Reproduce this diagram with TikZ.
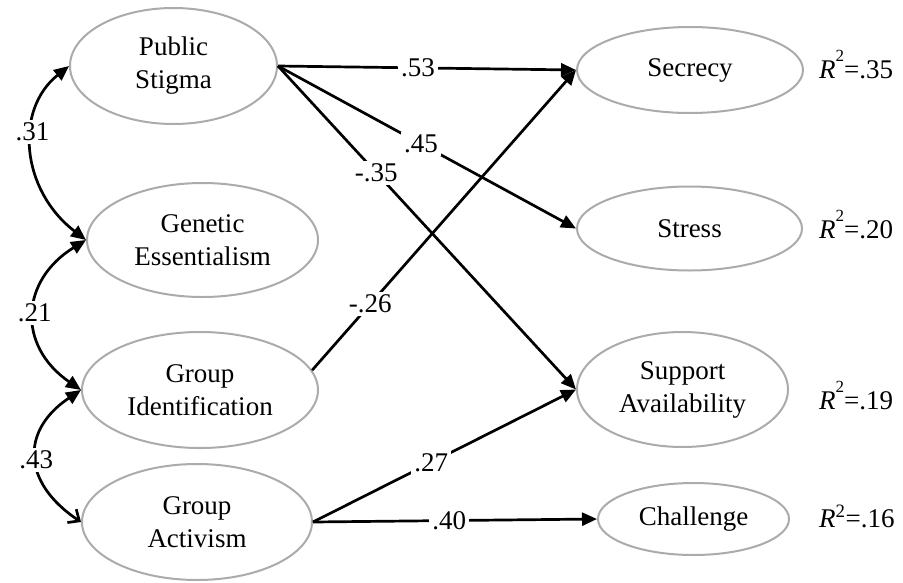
\documentclass[tikz,border=0pt]{standalone}
\usepackage{fontspec}
\setmainfont{Liberation Serif}
\usetikzlibrary{shapes.geometric,arrows.meta}
\newcommand{\hisup}[1]{\raisebox{0.62em}{\fontsize{17}{17}\selectfont #1}}
\begin{document}
\begin{tikzpicture}[x=1pt,y=-1pt,
  latent/.style={ellipse, draw=black!33, line width=2pt, inner sep=0pt, align=center, font=\fontsize{27}{33}\selectfont},
  pathar/.style={line width=2.7pt, -{Triangle[length=15pt,width=13pt]}},
  coef/.style={fill=white, inner sep=3pt, font=\fontsize{27}{33}\selectfont},
  cov/.style={line width=2.7pt, {Triangle[length=15pt,width=13pt]}-{Triangle[length=15pt,width=13pt]}},
  covopen/.style={line width=2.7pt, {Triangle[length=15pt,width=13pt]}-{Straight Barb[length=9pt,width=16pt]}},
  rsq/.style={anchor=west, inner sep=0pt, font=\fontsize{27}{33}\selectfont}]
\useasboundingbox (0,0) rectangle (903,582);
\node[latent, minimum width=207pt, minimum height=116pt] (PS) at (173.5,66) {Public\\Stigma};
\node[latent, minimum width=231pt, minimum height=114pt] (GE) at (202.5,240) {Genetic\\Essentialism};
\node[latent, minimum width=236pt, minimum height=116pt] (GI) at (200,390) {Group\\Identification};
\node[latent, minimum width=230pt, minimum height=116pt] (GA) at (197,522) {Group\\Activism};
\node[latent, minimum width=226pt, minimum height=86pt] (SE) at (690,70) {Secrecy};
\node[latent, minimum width=225pt, minimum height=84pt] (ST) at (689.5,228.5) {Stress};
\node[latent, minimum width=211pt, minimum height=115pt] (SA) at (682.5,389.5) {Support\\Availability};
\node[latent, minimum width=191pt, minimum height=72pt] (CH) at (693.5,519) {Challenge};

\node[rsq, anchor=base west] (r1) at (819,78) {\textit{R}\hisup{2}=.35};
\node[rsq, anchor=base west] (r2) at (819,238) {\textit{R}\hisup{2}=.20};
\node[rsq, anchor=base west] (r3) at (819,409) {\textit{R}\hisup{2}=.19};
\node[rsq, anchor=base west] (r4) at (819,527) {\textit{R}\textsuperscript{2}=.16};

\draw[pathar] (PS.east) -- node[coef, pos=0.47] {.53} (SE.west);
\draw[pathar] (PS.east) -- node[coef, pos=0.48] {.45} (ST.west);
\draw[pathar] (PS.east) -- node[coef, pos=0.33] {-.35} (SA.west);
\draw[pathar] (GI.10) -- node[coef, pos=0.22] {-.26} (SE.west);
\draw[pathar] (GA.east) -- node[coef, pos=0.45] {.27} (SA.west);
\draw[pathar] (GA.east) -- node[coef, pos=0.48] {.40} (CH.west);

\draw[cov] (PS.west) .. controls +(-55,44) and +(-65,-50) .. node[coef, pos=0.4] {.31} (GE.west);
\draw[cov] (GE.west) .. controls +(-65,40) and +(-65,-45) .. node[coef, pos=0.5] {.21} (GI.west);
\draw[covopen] (GI.west) .. controls +(-60,40) and +(-60,-40) .. node[coef, pos=0.53] {.43} (GA.west);
\end{tikzpicture}
\end{document}
